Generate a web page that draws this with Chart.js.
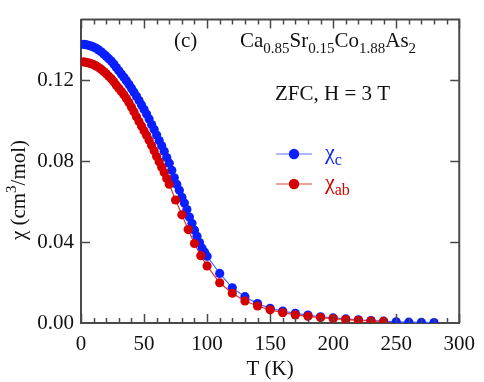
<!DOCTYPE html>
<html>
<head>
<meta charset="utf-8">
<script src="https://cdn.jsdelivr.net/npm/chart.js@4"></script>
<style>
  html, body { margin: 0; padding: 0; background: #fff; }
  #wrap { width: 484px; height: 382px; }
  .probe { font-family: "Liberation Serif"; position: absolute; left: -999px; }
</style>
</head>
<body>
<div id="wrap"><canvas id="chart" width="484" height="382"></canvas></div>
<span class="probe">0.12 T (K) χ</span>
<script>
// T (K) for chi_c (H || c)
const tempC = [
  2, 4, 6, 8, 10, 12, 14, 16, 18, 20, 22, 24, 26, 28, 30, 32, 34, 36, 38, 40,
  42, 44, 46, 48, 50, 52, 54, 56, 58, 60, 62, 64, 66, 68, 70, 72, 74, 76, 78, 80,
  82, 84, 86, 88, 90, 92, 94, 96, 98, 100,
  110, 120, 130, 140, 150, 160, 170, 180, 190, 200, 210, 220, 230, 240, 250, 260, 270, 280,
];
const chiC = [
  0.1378, 0.1376, 0.1373, 0.1369, 0.1364, 0.1358, 0.1350, 0.1341, 0.1330, 0.1319,
  0.1307, 0.1295, 0.1280, 0.1263, 0.1247, 0.1231, 0.1215, 0.1198, 0.1180, 0.1161,
  0.1141, 0.1121, 0.1100, 0.1078, 0.1056, 0.1033, 0.1009, 0.0981, 0.0957, 0.0929,
  0.0902, 0.0876, 0.0849, 0.0818, 0.0790, 0.0755, 0.0718, 0.0685, 0.0656, 0.0622,
  0.0593, 0.0561, 0.0524, 0.0493, 0.0459, 0.0429, 0.0398, 0.0370, 0.0350, 0.0330,
  0.0245, 0.0174, 0.0130, 0.0096, 0.0073, 0.0059, 0.0048, 0.0039, 0.0031, 0.0025,
  0.0020, 0.0016, 0.0012, 0.0009, 0.0006, 0.0004, 0.0003, 0.0002,
];

// T (K) for chi_ab (H || ab)
const tempAB = [
  2, 4, 6, 8, 10, 12, 14, 16, 18, 20, 22, 24, 26, 28, 30, 32, 34, 36, 38, 40,
  42, 44, 46, 48, 50, 52, 54, 56, 58, 60, 62, 64, 66, 68, 70,
  75, 80, 85, 90, 95, 100,
  110, 120, 130, 140, 150, 160, 170, 180, 190, 200, 210, 220, 230, 240,
];
const chiAB = [
  0.1291, 0.1289, 0.1286, 0.1282, 0.1277, 0.1271, 0.1263, 0.1254, 0.1243, 0.1232,
  0.1220, 0.1208, 0.1193, 0.1176, 0.1160, 0.1144, 0.1128, 0.1110, 0.1090, 0.1068,
  0.1045, 0.1020, 0.0996, 0.0974, 0.0951, 0.0928, 0.0904, 0.0877, 0.0851, 0.0823,
  0.0797, 0.0770, 0.0744, 0.0714, 0.0686,
  0.0608, 0.0535, 0.0462, 0.0393, 0.0333, 0.0282,
  0.0199, 0.0147, 0.0109, 0.0084, 0.0065, 0.0051, 0.0040, 0.0033, 0.0027, 0.0022,
  0.0017, 0.0013, 0.0010, 0.0008,
];

const xTicks = [0, 50, 100, 150, 200, 250, 300];
const yTicks = [0.00, 0.04, 0.08, 0.12];

const SERIF = '"Liberation Serif", "Times New Roman", "DejaVu Serif", serif';
const AXIS = "#4a4a4a";
const BLUE = "#0a1fff";
const RED = "#d40000";

// ticks pointing inward + top/right frame
const framePlugin = {
  id: "frame",
  afterDraw(chart) {
    const { ctx, chartArea: a, scales } = chart;
    const xs = scales.x, ys = scales.y;
    ctx.save();
    ctx.strokeStyle = AXIS;
    ctx.lineWidth = 2;
    ctx.beginPath();
    ctx.moveTo(a.left, a.top);
    ctx.lineTo(a.right, a.top);
    ctx.lineTo(a.right, a.bottom);
    ctx.stroke();
    ctx.lineWidth = 1.5;
    for (let t = 0; t <= 300; t += 10) {
      const px = Math.round(xs.getPixelForValue(t)) + 0.5;
      const len = t % 50 === 0 ? 9 : 5;
      ctx.beginPath();
      ctx.moveTo(px, a.bottom);
      ctx.lineTo(px, a.bottom - len);
      ctx.moveTo(px, a.top);
      ctx.lineTo(px, a.top + len);
      ctx.stroke();
    }
    yTicks.forEach((v) => {
      if (v === 0) return;
      const py = Math.round(ys.getPixelForValue(v)) + 0.5;
      ctx.beginPath();
      ctx.moveTo(a.left, py);
      ctx.lineTo(a.left + 9, py);
      ctx.moveTo(a.right, py);
      ctx.lineTo(a.right - 9, py);
      ctx.stroke();
    });
    ctx.restore();
  },
};

// helper: draws text pieces with sub/superscripts
function drawRich(ctx, x, y, parts, size, color) {
  let cx = x;
  parts.forEach(([txt, kind]) => {
    const s = kind ? Math.round(size * 0.72) : size;
    ctx.font = `${s}px ${SERIF}`;
    ctx.fillStyle = color;
    let dy = 0;
    if (kind === "sub") dy = size * 0.28;
    if (kind === "sup") dy = -size * 0.42;
    ctx.fillText(txt, cx, y + dy);
    cx += ctx.measureText(txt).width;
  });
  return cx;
}

const labelPlugin = {
  id: "labels",
  afterDraw(chart) {
    const { ctx, chartArea: a } = chart;
    ctx.save();
    ctx.textBaseline = "alphabetic";
    ctx.textAlign = "left";

    drawRich(ctx, 174, 47, [["(c)"]], 21, "#111");
    drawRich(ctx, 240, 47, [
      ["Ca"], ["0.85", "sub"], ["Sr"], ["0.15", "sub"],
      ["Co"], ["1.88", "sub"], ["As"], ["2", "sub"],
    ], 21, "#111");
    drawRich(ctx, 275, 100, [["ZFC, H = 3 T"]], 21, "#111");

    // legend
    const items = [
      { y: 154, color: BLUE, line: "#5a73ff", label: [["χ"], ["c", "sub"]] },
      { y: 184, color: RED, line: "#e04040", label: [["χ"], ["ab", "sub"]] },
    ];
    items.forEach((it) => {
      ctx.strokeStyle = it.line;
      ctx.lineWidth = 1.2;
      ctx.beginPath();
      ctx.moveTo(276, it.y);
      ctx.lineTo(312, it.y);
      ctx.stroke();
      ctx.fillStyle = it.color;
      ctx.beginPath();
      ctx.arc(294, it.y, 5.2, 0, Math.PI * 2);
      ctx.fill();
      drawRich(ctx, 325, it.y + 5, it.label, 22, it.color);
    });

    // x title
    ctx.textAlign = "center";
    ctx.font = `21px ${SERIF}`;
    ctx.fillStyle = "#111";
    ctx.fillText("T (K)", (a.left + a.right) / 2, 375);

    // y title, rotated
    ctx.translate(25, 190);
    ctx.rotate(-Math.PI / 2);
    ctx.textAlign = "left";
    const parts = [["χ ("], ["cm"], ["3", "sup"], ["/mol)"]];
    let w = 0;
    parts.forEach(([t, k]) => {
      ctx.font = `${k ? 15 : 21}px ${SERIF}`;
      w += ctx.measureText(t).width;
    });
    drawRich(ctx, -w / 2, 0, parts, 21, "#111");
    ctx.restore();
  },
};

function buildChart() {
  const ctx = document.getElementById("chart").getContext("2d");

  new Chart(ctx, {
    type: "line",
    data: {
      datasets: [
        {
          label: "χab",
          data: tempAB.map((t, i) => ({ x: t, y: chiAB[i] })),
          borderColor: "#e03030",
          backgroundColor: RED,
          pointBackgroundColor: RED,
          pointBorderColor: RED,
          borderWidth: 1.2,
          pointRadius: 4.6,
          pointBorderWidth: 0,
          tension: 0,
        },
        {
          label: "χc",
          data: tempC.map((t, i) => ({ x: t, y: chiC[i] })),
          borderColor: "#4a66ff",
          backgroundColor: BLUE,
          pointBackgroundColor: BLUE,
          pointBorderColor: BLUE,
          borderWidth: 1.2,
          pointRadius: 4.6,
          pointBorderWidth: 0,
          tension: 0,
        },
      ],
    },
    options: {
      responsive: false,
      animation: false,
      layout: { padding: { top: 1, right: 16, left: 0, bottom: 0 } },
      plugins: {
        legend: { display: false },
        tooltip: { enabled: false },
      },
      scales: {
        x: {
          type: "linear",
          min: 0,
          max: 300,
          afterBuildTicks: (s) => { s.ticks = xTicks.map((v) => ({ value: v })); },
          afterFit: (s) => { s.height = 59; },
          grid: { display: false, drawTicks: false },
          border: { display: true, color: AXIS, width: 2 },
          ticks: {
            padding: 9,
            color: "#111",
            maxRotation: 0,
            font: { family: SERIF, size: 21 },
          },
        },
        y: {
          type: "linear",
          min: 0,
          max: 0.15,
          afterBuildTicks: (s) => { s.ticks = yTicks.map((v) => ({ value: v })); },
          afterFit: (s) => { s.width = 81; },
          grid: { display: false, drawTicks: false },
          border: { display: true, color: AXIS, width: 2 },
          ticks: {
            padding: 7,
            color: "#111",
            font: { family: SERIF, size: 21 },
            callback: (v) => Number(v).toFixed(2),
          },
        },
      },
    },
    plugins: [framePlugin, labelPlugin],
  });
}

if (document.fonts && document.fonts.load) {
  document.fonts.load('21px "Liberation Serif"').then(buildChart, buildChart);
} else {
  buildChart();
}
</script>
</body>
</html>
